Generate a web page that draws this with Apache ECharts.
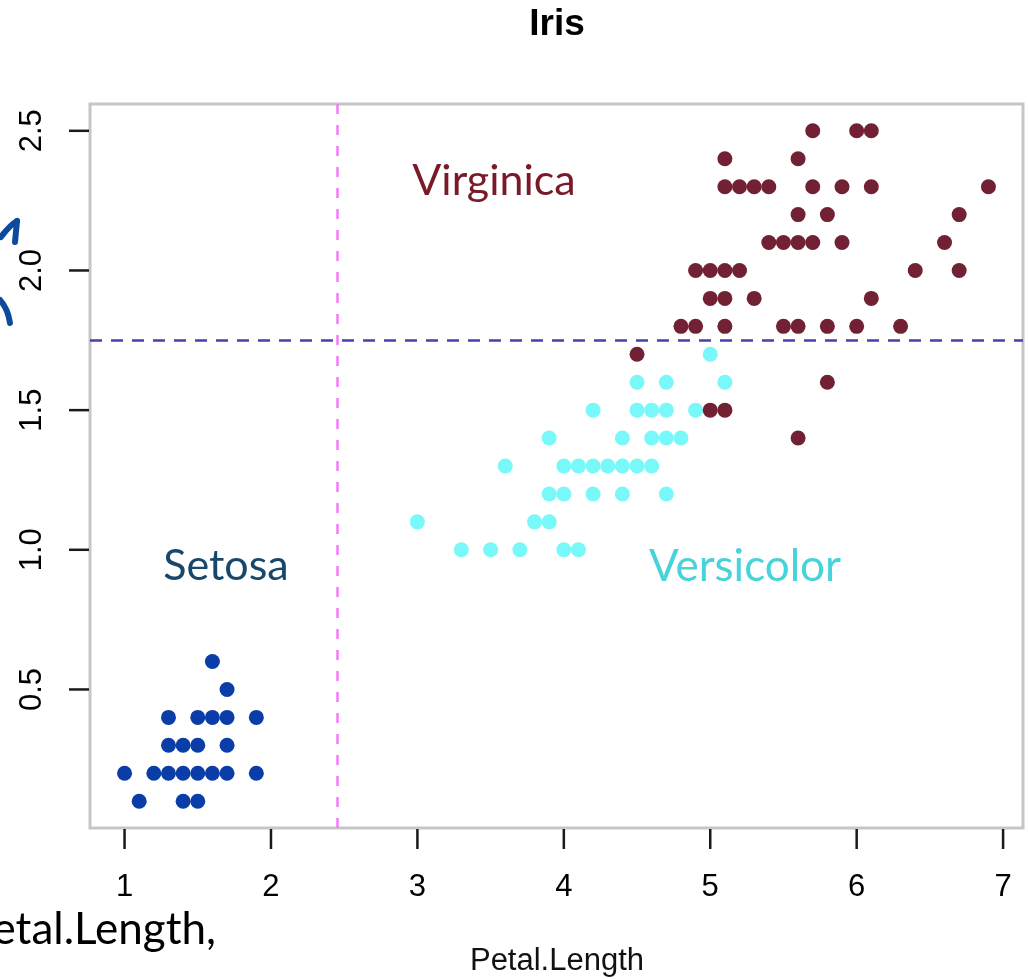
<!DOCTYPE html>
<html>
<head>
<meta charset="utf-8">
<script src="https://cdn.jsdelivr.net/npm/echarts@6/dist/echarts.min.js"></script>
<style>
html,body{margin:0;padding:0;background:#fff;}
#chart{width:1028px;height:979px;}
</style>
</head>
<body>
<div id="chart"></div>
<script>
// ---- data ----
const setosaLength = [1.6,1.7,1.3,1.5,1.6,1.7,1.9,1.3,1.4,1.5,1.7,1.0,1.2,1.3,1.4,1.5,1.6,1.7,1.9,1.1,1.4,1.5];
const setosaWidth  = [0.6,0.5,0.4,0.4,0.4,0.4,0.4,0.3,0.3,0.3,0.3,0.2,0.2,0.2,0.2,0.2,0.2,0.2,0.2,0.1,0.1,0.1];

const versicolorLength = [5.0,4.5,4.7,5.1,4.2,4.5,4.6,4.7,4.9,3.9,4.4,4.6,4.7,4.8,3.6,4.0,4.1,4.2,4.3,4.4,4.5,4.6,3.9,4.0,4.2,4.4,4.7,3.0,3.8,3.9,3.3,3.5,3.7,4.0,4.1];
const versicolorWidth  = [1.7,1.6,1.6,1.6,1.5,1.5,1.5,1.5,1.5,1.4,1.4,1.4,1.4,1.4,1.3,1.3,1.3,1.3,1.3,1.3,1.3,1.3,1.2,1.2,1.2,1.2,1.2,1.1,1.1,1.1,1.0,1.0,1.0,1.0,1.0];

const virginicaLength = [5.7,6.0,6.1,5.1,5.6,5.1,5.2,5.3,5.4,5.7,5.9,6.1,6.9,5.6,5.8,6.7,5.4,5.5,5.6,5.7,5.9,6.6,4.9,5.0,5.1,5.2,6.4,6.7,5.0,5.1,5.3,6.1,4.8,4.9,5.1,5.5,5.6,5.8,6.0,6.3,4.5,5.8,5.0,5.1,5.6];
const virginicaWidth  = [2.5,2.5,2.5,2.4,2.4,2.3,2.3,2.3,2.3,2.3,2.3,2.3,2.3,2.2,2.2,2.2,2.1,2.1,2.1,2.1,2.1,2.1,2.0,2.0,2.0,2.0,2.0,2.0,1.9,1.9,1.9,1.9,1.8,1.8,1.8,1.8,1.8,1.8,1.8,1.8,1.7,1.6,1.5,1.5,1.4];

const splitLength = 2.45;   // vertical dashed line
const splitWidth = 1.75;    // horizontal dashed line

const xTicks = [1,2,3,4,5,6,7];
const yTicks = [0.5,1.0,1.5,2.0,2.5];
const xRange = [0.764, 7.136];
const yRange = [0.004, 2.596];

const zip = (a, b) => a.map((v, i) => [v, b[i]]);

const chart = echarts.init(document.getElementById('chart'), null, {renderer: 'canvas'});
const tickFont = 'Liberation Sans';
const boxColor = '#c6c6c6';
const tickLen = 20;
const tickStyle = {stroke: '#1a1a1a', lineWidth: 2.5};

// tick marks drawn through the axis scales (outside the plot box)
function xTickItem(params, api) {
  const p = api.coord([api.value(0), yRange[0]]);
  return {type: 'line', shape: {x1: p[0], y1: p[1] + 1, x2: p[0], y2: p[1] + 1 + tickLen}, style: tickStyle};
}
function yTickItem(params, api) {
  const p = api.coord([xRange[0], api.value(1)]);
  return {type: 'line', shape: {x1: p[0] - 1, y1: p[1], x2: p[0] - 1 - tickLen, y2: p[1]}, style: tickStyle};
}

chart.setOption({
  animation: false,
  backgroundColor: '#ffffff',
  grid: {
    left: 90, right: 5, top: 104, bottom: 151,
    show: true, borderColor: boxColor, borderWidth: 3, backgroundColor: '#ffffff'
  },
  xAxis: {
    type: 'value', min: xRange[0], max: xRange[1],
    splitLine: {show: false},
    axisLine: {show: false},
    axisTick: {show: false},
    axisLabel: {customValues: xTicks, color: '#000', fontSize: 31, fontFamily: tickFont, margin: 44}
  },
  yAxis: {
    type: 'value', min: yRange[0], max: yRange[1],
    splitLine: {show: false},
    axisLine: {show: false},
    axisTick: {show: false},
    axisLabel: {customValues: yTicks, color: '#000', fontSize: 31, fontFamily: tickFont, margin: 42, rotate: 90,
      formatter: v => Number(v).toFixed(1)}
  },
  series: [
    {
      name: 'xTicks', type: 'custom', clip: false, silent: true,
      renderItem: xTickItem,
      data: xTicks.map(v => [v, yRange[0]])
    },
    {
      name: 'yTicks', type: 'custom', clip: false, silent: true,
      renderItem: yTickItem,
      data: yTicks.map(v => [xRange[0], v])
    },
    {
      name: 'setosa', type: 'scatter', symbolSize: 15,
      itemStyle: {color: '#0a3da8', opacity: 1},
      data: zip(setosaLength, setosaWidth),
      markLine: {
        silent: true, symbol: ['none', 'none'], label: {show: false},
        data: [
          {xAxis: splitLength, lineStyle: {color: '#f07cf8', type: [10, 11], width: 2.5}},
          {yAxis: splitWidth, lineStyle: {color: '#4242a8', type: [12, 9], width: 2.5}}
        ]
      }
    },
    {
      name: 'versicolor', type: 'scatter', symbolSize: 15,
      itemStyle: {color: '#78f8f8', opacity: 1},
      data: zip(versicolorLength, versicolorWidth)
    },
    {
      name: 'virginica', type: 'scatter', symbolSize: 15,
      itemStyle: {color: '#722034', opacity: 1},
      data: zip(virginicaLength, virginicaWidth)
    }
  ],
  graphic: [
    {type: 'text', style: {text: 'Iris', x: 557, y: 25, align: 'center', verticalAlign: 'middle',
      font: 'bold 37px "Liberation Sans"', fill: '#000'}},
    {type: 'text', style: {text: 'Petal.Length', x: 557, y: 961, align: 'center', verticalAlign: 'middle',
      font: '31px "Liberation Sans"', fill: '#111'}},
    {type: 'text', style: {text: 'Virginica', x: 494, y: 181, align: 'center', verticalAlign: 'middle',
      font: '43px Lato', fill: '#7a1a28'}},
    {type: 'text', style: {text: 'Setosa', x: 226, y: 566, align: 'center', verticalAlign: 'middle',
      font: '43px Lato', fill: '#17476b'}},
    {type: 'text', style: {text: 'Versicolor', x: 745, y: 567, align: 'center', verticalAlign: 'middle',
      font: '44px Lato', fill: '#48d2da'}},
    {type: 'text', style: {text: 'Petal.Length,', x: 216, y: 930, align: 'right', verticalAlign: 'middle',
      font: '44px Lato', fill: '#000'}},
    {type: 'bezierCurve', shape: {x1: 1, y1: 237, cpx1: 10, cpy1: 225, x2: 17, y2: 221},
      style: {stroke: '#0b4a9c', lineWidth: 6, fill: null, lineCap: 'round'}},
    {type: 'line', shape: {x1: 17, y1: 221, x2: 15, y2: 242},
      style: {stroke: '#0b4a9c', lineWidth: 6, lineCap: 'round'}},
    {type: 'bezierCurve', shape: {x1: 0, y1: 300, cpx1: 8, cpy1: 309, x2: 10, y2: 323},
      style: {stroke: '#0b4a9c', lineWidth: 6, fill: null, lineCap: 'round'}}
  ]
});
</script>
</body>
</html>
